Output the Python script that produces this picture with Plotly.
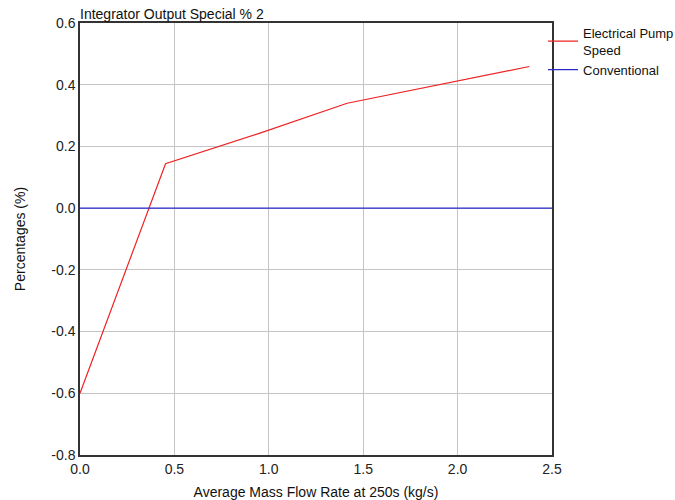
import plotly.graph_objects as go

pump_x = [0.0, 0.453, 0.953, 1.415, 2.38]
pump_y = [-0.6, 0.144, 0.243, 0.34, 0.459]
conv_x = [0.0, 2.5]
conv_y = [0.0, 0.0]

x_ticks = [0.0, 0.5, 1.0, 1.5, 2.0, 2.5]
y_ticks = [0.6, 0.4, 0.2, 0.0, -0.2, -0.4, -0.6, -0.8]

fig = go.Figure()
fig.add_trace(go.Scatter(x=pump_x, y=pump_y, mode="lines", name="Electrical Pump<br>Speed",
                         line=dict(color="#ee2222", width=1.2)))
fig.add_trace(go.Scatter(x=conv_x, y=conv_y, mode="lines", name="Conventional",
                         line=dict(color="#2a2acc", width=1.2)))

font = "Liberation Sans, Arial, sans-serif"
fig.update_layout(
    width=675, height=500,
    margin=dict(l=80, r=123, t=23, b=45, autoexpand=False),
    paper_bgcolor="white", plot_bgcolor="white",
    font=dict(family=font, size=14, color="#222"),
    showlegend=True,
    legend=dict(x=0.981, y=1.012, xanchor="left", yanchor="top", bgcolor="rgba(0,0,0,0)",
                font=dict(size=13, color="#111"), itemwidth=30, tracegroupgap=0),
    annotations=[dict(text="Integrator Output Special % 2", xref="paper", yref="paper",
                      x=0, y=1, xanchor="left", yanchor="bottom", showarrow=False,
                      font=dict(size=14, color="#111"), xshift=-2, yshift=-1)],
)
fig.update_xaxes(range=[0, 2.5], tickvals=x_ticks, ticktext=[f"{v:.1f}" for v in x_ticks],
                 showgrid=True, gridcolor="#c4c4c4", gridwidth=1,
                 showline=True, linecolor="#333", linewidth=1.5, mirror=True,
                 zeroline=False, ticks="", ticklen=0,
                 title=dict(text="Average Mass Flow Rate at 250s (kg/s)", font=dict(size=14, color="#111"), standoff=12))
fig.update_yaxes(range=[-0.8, 0.6], tickvals=y_ticks, ticktext=[f"{v:.1f}" for v in y_ticks],
                 showgrid=True, gridcolor="#c4c4c4", gridwidth=1,
                 showline=True, linecolor="#333", linewidth=1.5, mirror=True,
                 zeroline=False, ticks="", ticklen=0,
                 title=dict(text="Percentages (%)", font=dict(size=14, color="#111"), standoff=22))

fig.write_html("out.html")
